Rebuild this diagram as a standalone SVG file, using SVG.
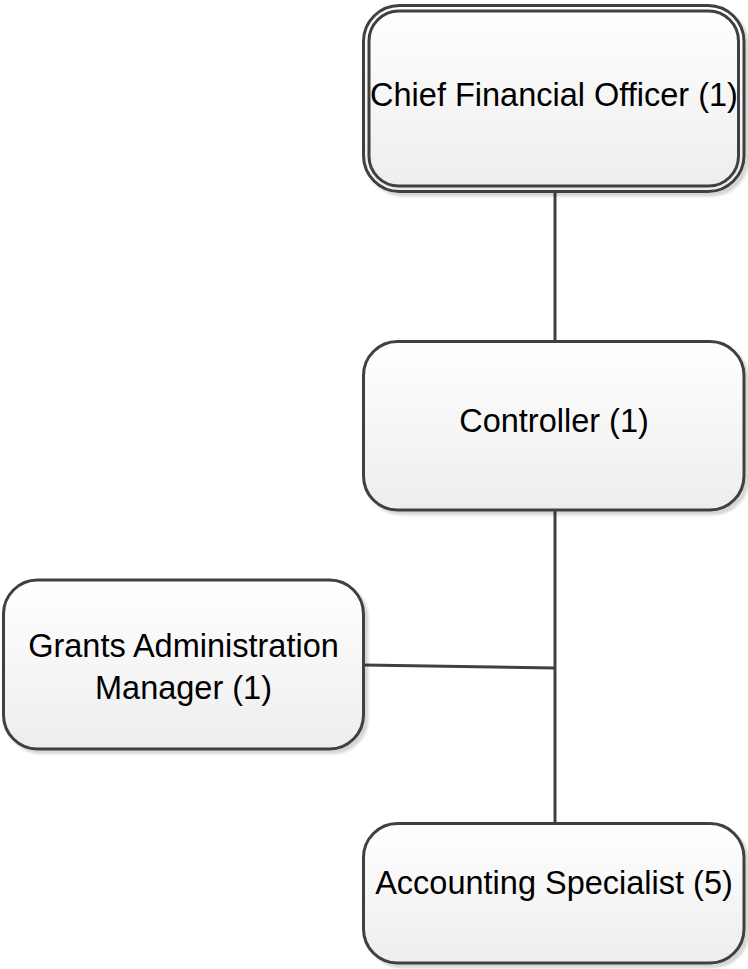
<svg xmlns="http://www.w3.org/2000/svg" width="748" height="969" viewBox="0 0 748 969">
  <defs>
    <linearGradient id="boxFill" x1="0" y1="0" x2="0" y2="1">
      <stop offset="0" stop-color="#ffffff"/>
      <stop offset="1" stop-color="#ededed"/>
    </linearGradient>
    <filter id="shadow" x="-5%" y="-5%" width="115%" height="115%">
      <feDropShadow dx="3.5" dy="3.5" stdDeviation="1.2" flood-color="#000000" flood-opacity="0.16"/>
    </filter>
  </defs>
  <style>
    .box { fill: url(#boxFill); stroke: #404040; stroke-width: 3; filter: url(#shadow); }
    .inner { fill: none; stroke: #404040; stroke-width: 3; }
    .label { font-family: "Liberation Sans", Arial, sans-serif; font-size: 32.5px; fill: #000000; text-anchor: middle; }
    .link { fill: none; stroke: #404040; stroke-width: 3; }
  </style>

  <rect width="748" height="969" fill="#ffffff"/>

  <g id="connectors">
    <line class="link" x1="555" y1="191.5" x2="555" y2="341.5"/>
    <line class="link" x1="555" y1="510" x2="555" y2="823.5"/>
    <line class="link" x1="363.5" y1="665" x2="555" y2="668"/>
  </g>

  <g id="cfo">
    <rect class="box" x="363.5" y="5.5" width="380.5" height="186" rx="36" ry="36"/>
    <rect class="inner" x="369" y="11" width="369.5" height="175" rx="30" ry="30"/>
    <text class="label" x="554" y="106">Chief Financial Officer (1)</text>
  </g>

  <g id="controller">
    <rect class="box" x="363.5" y="341.5" width="380.5" height="168.5" rx="34" ry="34"/>
    <text class="label" x="554" y="432">Controller (1)</text>
  </g>

  <g id="grants-manager">
    <rect class="box" x="3.5" y="580" width="360" height="169" rx="34" ry="34"/>
    <text class="label" x="183.5" y="657">Grants Administration</text>
    <text class="label" x="183.5" y="699">Manager (1)</text>
  </g>

  <g id="accounting-specialist">
    <rect class="box" x="363.5" y="823.5" width="380.5" height="139.5" rx="34" ry="34"/>
    <text class="label" x="554" y="894">Accounting Specialist (5)</text>
  </g>
</svg>
